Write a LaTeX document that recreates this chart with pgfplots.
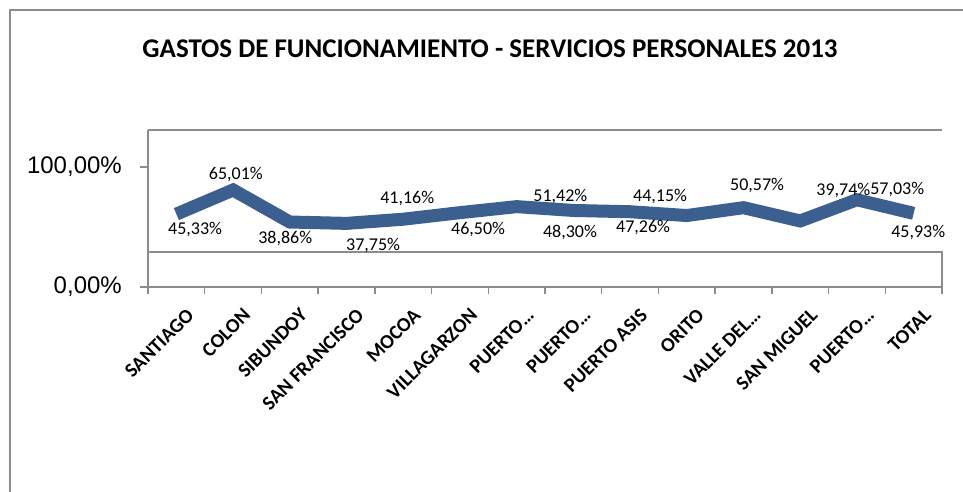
\documentclass[border=0pt]{standalone}
\usepackage{pgfplots}
\pgfplotsset{compat=1.18}
\usepackage{fontspec}
\setmainfont{Carlito}
\newfontfamily\tickfont{Liberation Sans}
\definecolor{linec}{HTML}{3B6090}
\definecolor{framec}{HTML}{8C8C8C}
\begin{document}
\begin{tikzpicture}[x=1pt,y=1pt]
\useasboundingbox (0,0) rectangle (963,491);
\draw[framec, line width=2.5pt] (10,-5) -- (10,481) -- (970,481);
\node[font=\bfseries\fontsize{27}{29}\selectfont] at (490,442) {GASTOS DE FUNCIONAMIENTO - SERVICIOS PERSONALES 2013};
\begin{axis}[
  at={(148pt,204pt)}, anchor=south west, scale only axis,
  width=794pt, height=157pt,
  xmin=-0.5, xmax=13.5, ymin=0, ymax=130.8,
  axis x line*=bottom, axis y line*=left,
  axis line style={framec, line width=1.5pt, -},
  clip=false,
  xtick={0,...,13},
  xticklabels={SANTIAGO,COLON,SIBUNDOY,SAN FRANCISCO,MOCOA,VILLAGARZON,PUERTO\dots,PUERTO\dots,PUERTO ASIS,ORITO,VALLE DEL\dots,SAN MIGUEL,PUERTO\dots,TOTAL},
  x tick label style={rotate=45, anchor=north east, inner sep=1pt, xshift=-1pt, yshift=-14pt,
    font=\bfseries\fontsize{20}{20}\selectfont},
  major x tick style={draw=none},
  minor xtick={-0.5,0.5,...,13.5},
  minor tick length=7pt,
  minor tick style={framec, line width=1.5pt},
  ytick={0,100},
  yticklabels={{0,00\%},{100,00\%}},
  y tick label style={font=\tickfont\fontsize{24}{24}\selectfont, inner sep=2pt, xshift=-16pt},
  major tick length=8pt,
  tick align=outside,
  major y tick style={framec, line width=1.5pt},
]
\draw[framec, line width=1.5pt] (axis cs:-0.5,130.8) -- (axis cs:13.5,130.8);
\draw[framec, line width=1.5pt] (axis cs:-0.5,29.2) -- (axis cs:13.5,29.2) -- (axis cs:13.5,0);
\end{axis}
\begin{axis}[
  at={(148pt,204pt)}, anchor=south west, scale only axis,
  width=794pt, height=157pt,
  xmin=-0.5, xmax=13.5, ymin=-14.2, ymax=114,
  hide axis, clip=false,
]
\addplot[linec, line width=13pt, line join=miter, mark=none] coordinates {
(0,45.33) (1,65.01) (2,38.86) (3,37.75) (4,41.16) (5,46.50) (6,51.42)
(7,48.30) (8,47.26) (9,44.15) (10,50.57) (11,39.74) (12,57.03) (13,45.93)};
\begin{scope}[every node/.style={font=\fontsize{18}{18}\selectfont, inner sep=0pt}]
\node at (axis cs:0.33,32.4) {45,33\%};
\node at (axis cs:1.05,77.3) {65,01\%};
\node at (axis cs:1.92,25.8) {38,86\%};
\node at (axis cs:3.47,19.3) {37,75\%};
\node at (axis cs:4.07,57.7) {41,16\%};
\node at (axis cs:5.32,32.4) {46,50\%};
\node at (axis cs:6.77,59.3) {51,42\%};
\node at (axis cs:6.94,29.9) {48,30\%};
\node at (axis cs:8.23,34.0) {47,26\%};
\node at (axis cs:8.53,59.3) {44,15\%};
\node at (axis cs:10.24,68.3) {50,57\%};
\node at (axis cs:11.76,64.2) {39,74\%};
\node at (axis cs:12.71,65.8) {57,03\%};
\node at (axis cs:13.08,30.7) {45,93\%};
\end{scope}
\end{axis}
\end{tikzpicture}
\end{document}
